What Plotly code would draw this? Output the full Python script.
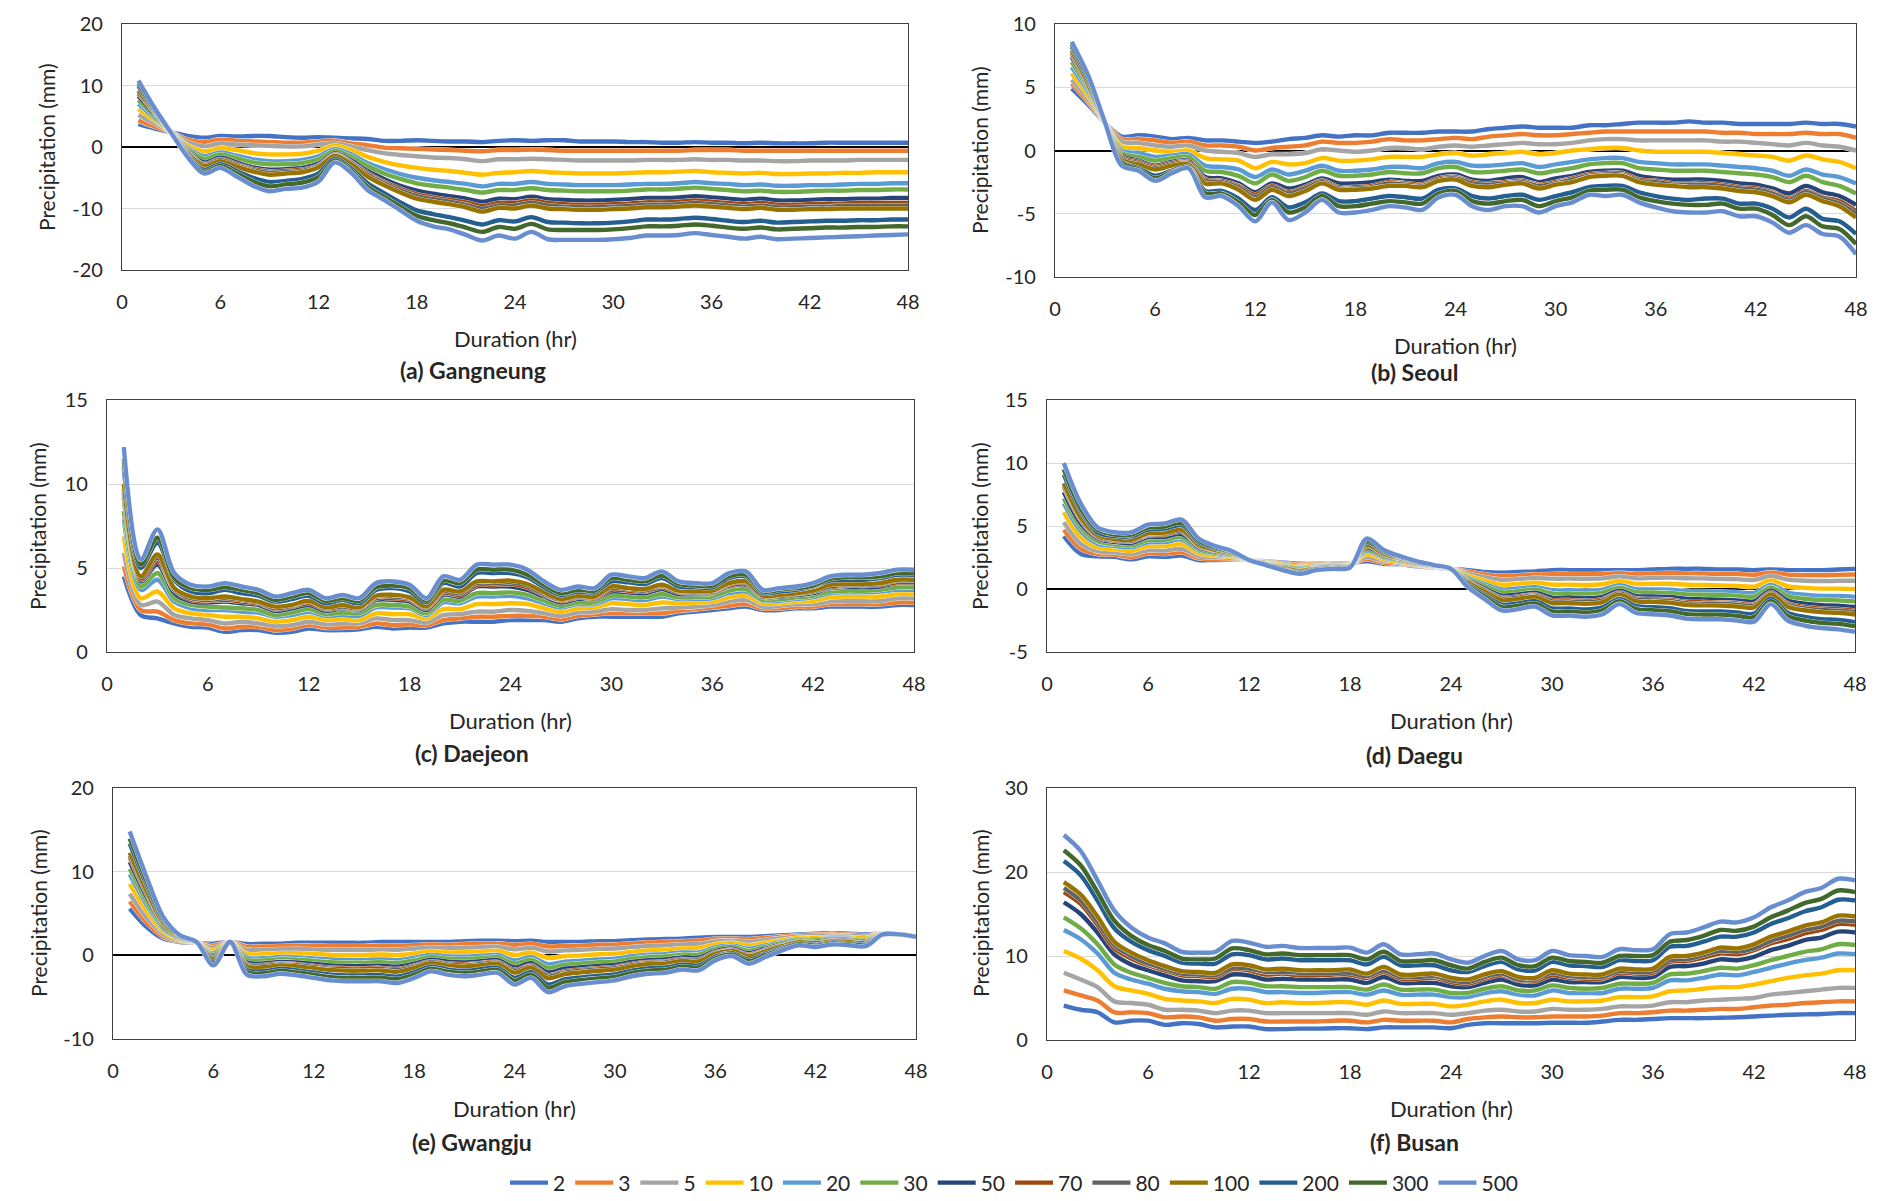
import plotly.graph_objects as go

HOURS = list(range(1, 49))
RETURN_PERIODS = ["2", "3", "5", "10", "20", "30", "50", "70", "80", "100", "200", "300", "500"]
COLORS = ["#4472C4", "#ED7D31", "#A5A5A5", "#FFC000", "#5B9BD5", "#70AD47", "#264478",
          "#9E480E", "#636363", "#997300", "#255E91", "#43682B", "#698ED0"]

# (a) Gangneung
GANGNEUNG = {
    "2": [3.7,3.0,2.4,1.8,1.5,1.8,1.7,1.8,1.8,1.6,1.5,1.6,1.5,1.4,1.3,1.0,1.0,1.1,1.0,0.9,0.9,0.8,1.0,1.1,1.0,1.1,1.1,0.9,0.9,0.9,0.8,0.8,0.7,0.7,0.8,0.7,0.7,0.6,0.7,0.6,0.6,0.6,0.7,0.7,0.7,0.7,0.7,0.7],
    "3": [4.3,3.3,2.4,1.2,0.8,1.2,1.0,0.9,0.8,0.7,0.7,0.9,1.0,0.6,0.3,-0.1,-0.2,-0.3,-0.4,-0.5,-0.6,-0.7,-0.5,-0.5,-0.4,-0.5,-0.6,-0.6,-0.6,-0.6,-0.6,-0.6,-0.6,-0.6,-0.5,-0.5,-0.5,-0.6,-0.6,-0.6,-0.6,-0.6,-0.6,-0.6,-0.6,-0.6,-0.6,-0.6],
    "5": [5.2,3.8,2.4,0.8,0.1,0.6,0.4,0.3,0.2,0.1,0.1,0.4,0.6,0.1,-0.5,-1.0,-1.3,-1.5,-1.7,-1.8,-2.0,-2.3,-2.0,-2.0,-1.9,-2.0,-2.1,-2.2,-2.2,-2.2,-2.2,-2.1,-2.1,-2.1,-2.0,-2.1,-2.1,-2.2,-2.2,-2.3,-2.3,-2.2,-2.2,-2.2,-2.1,-2.1,-2.1,-2.1],
    "10": [6.2,4.3,2.4,0.3,-0.7,-0.2,-0.5,-1.0,-1.2,-1.2,-1.1,-0.6,0.2,-0.5,-1.6,-2.4,-3.0,-3.4,-3.7,-3.9,-4.2,-4.5,-4.2,-4.1,-3.9,-4.1,-4.2,-4.3,-4.3,-4.3,-4.2,-4.1,-4.1,-4.0,-3.9,-4.1,-4.2,-4.3,-4.2,-4.4,-4.4,-4.3,-4.3,-4.2,-4.2,-4.1,-4.1,-4.1],
    "20": [7.0,4.7,2.4,-0.1,-1.5,-0.9,-1.4,-2.0,-2.3,-2.3,-2.1,-1.5,-0.3,-1.2,-2.6,-3.6,-4.4,-5.0,-5.4,-5.7,-6.0,-6.4,-6.0,-6.0,-5.7,-6.0,-6.1,-6.2,-6.2,-6.2,-6.1,-6.0,-6.0,-5.9,-5.7,-5.9,-6.0,-6.2,-6.1,-6.3,-6.3,-6.2,-6.2,-6.1,-6.0,-6.0,-5.9,-5.9],
    "30": [7.6,5.0,2.4,-0.3,-1.9,-1.2,-1.8,-2.5,-2.8,-2.8,-2.6,-2.0,-0.6,-1.6,-3.1,-4.3,-5.2,-5.9,-6.3,-6.6,-7.0,-7.4,-7.0,-7.0,-6.7,-7.0,-7.1,-7.2,-7.2,-7.2,-7.1,-6.9,-6.9,-6.8,-6.6,-6.8,-7.0,-7.2,-7.1,-7.3,-7.3,-7.2,-7.1,-7.1,-7.0,-7.0,-6.9,-6.9],
    "50": [8.3,5.3,2.4,-0.6,-2.5,-1.7,-2.5,-3.3,-3.7,-3.6,-3.4,-2.7,-1.0,-2.2,-3.9,-5.2,-6.3,-7.1,-7.6,-8.0,-8.4,-8.9,-8.4,-8.5,-8.1,-8.5,-8.6,-8.7,-8.7,-8.6,-8.5,-8.3,-8.3,-8.2,-8.0,-8.2,-8.4,-8.6,-8.4,-8.7,-8.7,-8.6,-8.5,-8.5,-8.4,-8.4,-8.3,-8.3],
    "70": [8.7,5.5,2.4,-0.7,-2.8,-2.0,-2.8,-3.6,-4.0,-3.9,-3.7,-3.0,-1.2,-2.5,-4.3,-5.7,-6.8,-7.7,-8.2,-8.6,-9.0,-9.6,-9.1,-9.1,-8.7,-9.1,-9.3,-9.4,-9.4,-9.3,-9.2,-9.0,-9.0,-8.9,-8.7,-8.9,-9.1,-9.3,-9.1,-9.4,-9.4,-9.3,-9.2,-9.2,-9.1,-9.1,-9.1,-9.1],
    "80": [8.9,5.6,2.4,-0.8,-2.9,-2.1,-3.0,-3.8,-4.2,-4.1,-3.9,-3.1,-1.3,-2.6,-4.5,-5.9,-7.1,-8.0,-8.5,-8.9,-9.4,-10.0,-9.5,-9.5,-9.1,-9.5,-9.7,-9.8,-9.8,-9.7,-9.6,-9.4,-9.4,-9.3,-9.1,-9.3,-9.5,-9.7,-9.5,-9.8,-9.8,-9.7,-9.7,-9.6,-9.6,-9.6,-9.6,-9.6],
    "100": [9.2,5.7,2.4,-0.9,-3.1,-2.3,-3.2,-4.0,-4.5,-4.3,-4.1,-3.3,-1.4,-2.8,-4.8,-6.2,-7.4,-8.4,-8.9,-9.3,-9.8,-10.5,-9.9,-10.0,-9.5,-10.0,-10.1,-10.2,-10.2,-10.1,-10.0,-9.8,-9.8,-9.7,-9.5,-9.7,-9.9,-10.1,-9.9,-10.2,-10.2,-10.1,-10.1,-10.0,-10.0,-10.0,-10.0,-10.0],
    "200": [9.9,5.9,2.3,-1.2,-3.7,-2.8,-3.9,-5.0,-5.7,-5.5,-5.2,-4.3,-1.9,-3.5,-5.9,-7.5,-9.0,-10.3,-10.9,-11.4,-12.0,-12.6,-11.9,-12.1,-11.4,-12.2,-12.3,-12.4,-12.4,-12.3,-12.1,-11.8,-11.8,-11.7,-11.5,-11.7,-12.0,-12.2,-12.0,-12.3,-12.2,-12.1,-12.0,-12.0,-11.9,-11.9,-11.8,-11.8],
    "300": [10.3,6.1,2.3,-1.4,-4.0,-3.1,-4.3,-5.6,-6.4,-6.1,-5.8,-4.9,-2.2,-3.9,-6.5,-8.1,-9.7,-11.2,-11.9,-12.4,-13.1,-13.8,-13.0,-13.3,-12.5,-13.4,-13.5,-13.5,-13.5,-13.4,-13.2,-12.9,-12.9,-12.8,-12.6,-12.8,-13.1,-13.3,-13.1,-13.4,-13.3,-13.2,-13.1,-13.1,-13.0,-13.0,-12.9,-12.9],
    "500": [10.8,6.3,2.3,-1.6,-4.3,-3.4,-4.8,-6.3,-7.2,-6.8,-6.6,-5.6,-2.5,-4.2,-7.0,-8.6,-10.3,-12.0,-12.9,-13.4,-14.3,-15.2,-14.4,-14.9,-13.8,-15.0,-15.1,-15.1,-15.1,-15.0,-14.8,-14.4,-14.4,-14.3,-14.0,-14.3,-14.6,-14.9,-14.6,-15.0,-14.9,-14.8,-14.7,-14.6,-14.5,-14.4,-14.3,-14.2],
}

# (b) Seoul
SEOUL = {
    "2": [4.9,3.6,2.2,1.1,1.2,1.1,0.9,1.0,0.8,0.8,0.7,0.6,0.7,0.9,1.0,1.2,1.1,1.2,1.2,1.4,1.4,1.4,1.5,1.5,1.5,1.7,1.8,1.9,1.8,1.8,1.8,2.0,2.0,2.1,2.2,2.2,2.2,2.3,2.2,2.2,2.1,2.1,2.1,2.1,2.2,2.1,2.1,1.9],
    "3": [5.3,3.8,2.2,0.9,0.9,0.8,0.6,0.7,0.4,0.4,0.3,0.0,0.2,0.3,0.4,0.7,0.6,0.6,0.7,0.9,0.8,0.8,0.9,1.0,0.9,1.1,1.2,1.3,1.2,1.2,1.3,1.4,1.5,1.5,1.5,1.5,1.5,1.5,1.5,1.4,1.4,1.3,1.3,1.3,1.4,1.3,1.3,1.0],
    "5": [5.6,4.0,2.2,0.7,0.6,0.4,0.3,0.4,0.0,-0.1,-0.2,-0.5,-0.3,-0.3,-0.2,0.1,0.0,-0.1,0.0,0.2,0.2,0.1,0.3,0.4,0.3,0.4,0.5,0.6,0.5,0.5,0.6,0.8,0.9,0.9,0.8,0.8,0.8,0.8,0.8,0.7,0.7,0.6,0.5,0.4,0.6,0.4,0.3,0.0],
    "10": [6.1,4.3,2.2,0.3,0.2,0.0,-0.1,0.0,-0.6,-0.7,-0.8,-1.4,-0.9,-1.1,-1.0,-0.6,-0.8,-0.8,-0.7,-0.5,-0.5,-0.5,-0.3,-0.2,-0.4,-0.3,-0.2,-0.1,-0.3,-0.2,0.0,0.1,0.2,0.2,0.0,-0.1,-0.1,-0.1,-0.1,-0.2,-0.3,-0.4,-0.5,-0.8,-0.4,-0.7,-0.9,-1.4],
    "20": [6.6,4.6,2.2,0.0,-0.2,-0.5,-0.4,-0.3,-1.2,-1.3,-1.5,-2.1,-1.5,-1.9,-1.6,-1.2,-1.6,-1.6,-1.5,-1.3,-1.3,-1.4,-1.0,-0.9,-1.2,-1.2,-1.1,-1.0,-1.3,-1.1,-0.9,-0.7,-0.6,-0.6,-0.9,-1.0,-1.1,-1.1,-1.1,-1.2,-1.3,-1.4,-1.6,-2.0,-1.5,-1.9,-2.1,-2.6],
    "30": [7.0,4.8,2.2,-0.2,-0.5,-0.8,-0.6,-0.5,-1.6,-1.7,-2.0,-2.6,-1.9,-2.4,-2.1,-1.6,-2.0,-2.0,-1.9,-1.7,-1.8,-1.8,-1.4,-1.3,-1.7,-1.7,-1.6,-1.5,-1.8,-1.6,-1.4,-1.1,-1.0,-1.0,-1.4,-1.5,-1.6,-1.6,-1.6,-1.7,-1.8,-1.9,-2.1,-2.5,-2.0,-2.5,-2.8,-3.4],
    "50": [7.4,5.0,2.2,-0.4,-0.8,-1.2,-0.9,-0.8,-2.1,-2.2,-2.6,-3.3,-2.6,-3.0,-2.7,-2.2,-2.6,-2.6,-2.5,-2.3,-2.4,-2.4,-2.0,-1.9,-2.3,-2.4,-2.2,-2.1,-2.5,-2.2,-2.0,-1.7,-1.6,-1.6,-2.0,-2.2,-2.3,-2.3,-2.3,-2.4,-2.6,-2.7,-3.0,-3.4,-2.8,-3.3,-3.6,-4.3],
    "70": [7.6,5.1,2.2,-0.5,-0.9,-1.3,-1.0,-0.9,-2.3,-2.4,-2.8,-3.5,-2.8,-3.3,-2.9,-2.4,-2.9,-2.9,-2.8,-2.5,-2.6,-2.7,-2.2,-2.1,-2.5,-2.6,-2.5,-2.4,-2.7,-2.5,-2.2,-1.9,-1.8,-1.8,-2.3,-2.4,-2.6,-2.6,-2.6,-2.7,-2.9,-3.0,-3.3,-3.8,-3.2,-3.7,-4.0,-4.8],
    "80": [7.7,5.1,2.2,-0.6,-1.0,-1.4,-1.1,-1.0,-2.4,-2.5,-2.9,-3.7,-2.9,-3.4,-3.0,-2.5,-3.0,-3.0,-2.9,-2.6,-2.7,-2.8,-2.3,-2.2,-2.6,-2.7,-2.6,-2.5,-2.8,-2.6,-2.3,-2.0,-1.9,-1.9,-2.4,-2.5,-2.7,-2.7,-2.7,-2.8,-3.0,-3.1,-3.4,-3.9,-3.3,-3.8,-4.2,-5.0],
    "100": [7.9,5.2,2.2,-0.7,-1.1,-1.5,-1.2,-1.1,-2.6,-2.6,-3.1,-3.9,-3.1,-3.6,-3.2,-2.6,-3.1,-3.1,-3.0,-2.8,-2.8,-2.9,-2.4,-2.3,-2.8,-2.9,-2.7,-2.6,-3.0,-2.7,-2.5,-2.1,-2.0,-2.0,-2.5,-2.7,-2.8,-2.9,-2.9,-3.0,-3.2,-3.3,-3.6,-4.1,-3.5,-4.0,-4.4,-5.3],
    "200": [8.2,5.5,2.2,-0.9,-1.4,-2.0,-1.6,-1.3,-3.2,-3.2,-3.8,-4.7,-3.7,-4.5,-4.1,-3.4,-4.0,-4.0,-3.8,-3.6,-3.7,-3.8,-3.1,-3.0,-3.6,-3.8,-3.6,-3.5,-3.9,-3.6,-3.3,-2.9,-2.8,-2.8,-3.3,-3.6,-3.8,-3.9,-3.8,-3.8,-4.2,-4.2,-4.6,-5.3,-4.6,-5.4,-5.6,-6.6],
    "300": [8.4,5.7,2.2,-1.0,-1.5,-2.2,-1.7,-1.4,-3.4,-3.4,-4.1,-5.1,-3.9,-4.9,-4.5,-3.6,-4.4,-4.4,-4.2,-4.0,-4.1,-4.2,-3.4,-3.2,-4.0,-4.2,-4.0,-3.9,-4.4,-4.0,-3.7,-3.2,-3.1,-3.1,-3.7,-4.0,-4.2,-4.3,-4.3,-4.2,-4.6,-4.6,-5.1,-5.9,-5.2,-6.0,-6.2,-7.4],
    "500": [8.6,5.9,2.2,-1.2,-1.6,-2.4,-1.8,-1.4,-3.7,-3.6,-4.4,-5.6,-4.1,-5.5,-4.9,-3.9,-4.9,-4.9,-4.7,-4.4,-4.5,-4.7,-3.7,-3.5,-4.4,-4.7,-4.4,-4.4,-4.9,-4.4,-4.1,-3.5,-3.6,-3.5,-4.1,-4.5,-4.8,-4.9,-4.9,-4.8,-5.2,-5.2,-5.7,-6.5,-5.9,-6.6,-6.8,-8.2],
}

# (c) Daejeon
DAEJEON = {
    "2": [4.5,2.2,2.0,1.7,1.5,1.45,1.2,1.3,1.3,1.15,1.2,1.4,1.3,1.3,1.35,1.5,1.4,1.45,1.45,1.7,1.8,1.8,1.8,1.9,1.9,1.9,1.8,2.0,2.1,2.1,2.1,2.1,2.1,2.3,2.4,2.5,2.6,2.7,2.5,2.5,2.6,2.6,2.7,2.7,2.7,2.7,2.8,2.8],
    "3": [5.1,2.5,2.4,1.9,1.7,1.65,1.4,1.5,1.5,1.3,1.4,1.6,1.45,1.45,1.5,1.7,1.6,1.65,1.6,1.9,2.0,2.1,2.1,2.15,2.15,2.1,1.95,2.15,2.25,2.3,2.3,2.3,2.3,2.45,2.55,2.65,2.75,2.85,2.6,2.6,2.7,2.7,2.85,2.85,2.85,2.85,2.95,2.95],
    "5": [5.9,2.8,3.0,2.2,2.0,1.9,1.7,1.8,1.7,1.55,1.6,1.8,1.65,1.7,1.7,2.0,1.9,1.9,1.75,2.2,2.25,2.4,2.4,2.5,2.45,2.3,2.15,2.35,2.4,2.55,2.5,2.5,2.6,2.65,2.7,2.8,3.0,3.1,2.7,2.75,2.85,2.85,3.0,3.05,3.05,3.05,3.2,3.2],
    "10": [6.9,3.2,3.6,2.6,2.3,2.2,2.1,2.1,2.0,1.8,1.9,2.1,1.9,1.95,1.9,2.3,2.25,2.25,2.0,2.55,2.55,2.85,2.85,2.9,2.85,2.6,2.4,2.6,2.65,2.9,2.85,2.8,2.95,2.9,2.95,3.0,3.25,3.35,2.9,2.9,3.0,3.05,3.25,3.3,3.3,3.3,3.45,3.45],
    "20": [7.9,3.7,4.3,3.0,2.6,2.5,2.5,2.4,2.35,2.1,2.2,2.4,2.15,2.2,2.15,2.65,2.65,2.6,2.2,2.95,2.9,3.3,3.3,3.35,3.2,2.9,2.65,2.85,2.85,3.2,3.15,3.1,3.3,3.15,3.15,3.2,3.5,3.6,3.05,3.05,3.15,3.25,3.5,3.55,3.55,3.6,3.7,3.7],
    "30": [8.4,3.9,4.7,3.2,2.8,2.7,2.65,2.6,2.5,2.2,2.35,2.55,2.25,2.35,2.3,2.8,2.8,2.7,2.3,3.1,3.05,3.5,3.5,3.55,3.4,3.05,2.75,2.95,2.95,3.35,3.3,3.25,3.45,3.25,3.25,3.3,3.65,3.75,3.1,3.15,3.25,3.35,3.6,3.65,3.65,3.7,3.85,3.85],
    "50": [9.2,4.2,5.2,3.5,3.0,2.95,3.0,2.9,2.8,2.45,2.6,2.8,2.45,2.6,2.5,3.1,3.1,3.0,2.5,3.4,3.3,3.9,3.9,3.9,3.7,3.3,2.95,3.15,3.15,3.6,3.55,3.5,3.75,3.45,3.45,3.5,3.9,4.0,3.25,3.3,3.4,3.5,3.8,3.85,3.85,3.9,4.1,4.1],
    "70": [9.5,4.3,5.4,3.7,3.1,3.05,3.1,3.0,2.9,2.55,2.7,2.9,2.55,2.65,2.55,3.2,3.2,3.1,2.6,3.5,3.4,4.0,4.0,4.05,3.85,3.4,3.05,3.25,3.2,3.7,3.65,3.6,3.85,3.55,3.5,3.55,3.95,4.05,3.3,3.35,3.45,3.6,3.85,3.95,3.95,4.0,4.15,4.15],
    "80": [9.7,4.4,5.6,3.7,3.2,3.1,3.2,3.1,2.95,2.6,2.75,3.0,2.6,2.7,2.6,3.3,3.3,3.2,2.65,3.6,3.5,4.1,4.1,4.15,3.95,3.45,3.1,3.3,3.25,3.8,3.75,3.65,3.95,3.6,3.55,3.6,4.05,4.15,3.3,3.4,3.5,3.6,3.9,4.0,4.0,4.05,4.25,4.25],
    "100": [10.0,4.5,5.8,3.8,3.3,3.2,3.3,3.15,3.0,2.7,2.8,3.05,2.65,2.8,2.65,3.35,3.4,3.25,2.7,3.7,3.6,4.2,4.2,4.25,4.05,3.55,3.15,3.35,3.3,3.9,3.8,3.75,4.0,3.65,3.6,3.65,4.1,4.2,3.35,3.4,3.5,3.65,4.0,4.05,4.05,4.1,4.3,4.3],
    "200": [11.0,5.0,6.5,4.3,3.6,3.5,3.7,3.5,3.35,3.0,3.15,3.35,2.9,3.1,2.9,3.7,3.8,3.6,2.95,4.1,3.9,4.7,4.7,4.7,4.45,3.85,3.4,3.6,3.55,4.2,4.15,4.05,4.4,3.9,3.85,3.85,4.4,4.5,3.5,3.6,3.7,3.9,4.25,4.3,4.3,4.4,4.6,4.6],
    "300": [11.5,5.2,6.8,4.4,3.8,3.7,3.85,3.7,3.5,3.1,3.3,3.5,3.05,3.2,3.05,3.85,3.95,3.8,3.05,4.25,4.1,4.9,4.9,4.9,4.6,4.0,3.5,3.7,3.65,4.4,4.3,4.2,4.55,4.05,3.95,3.95,4.5,4.6,3.6,3.7,3.8,3.95,4.35,4.45,4.45,4.5,4.7,4.7],
    "500": [12.2,5.5,7.3,4.7,4.0,3.9,4.1,3.9,3.7,3.3,3.5,3.7,3.2,3.4,3.2,4.1,4.2,4.0,3.2,4.5,4.3,5.2,5.2,5.2,4.9,4.2,3.7,3.9,3.8,4.6,4.5,4.4,4.8,4.2,4.1,4.1,4.7,4.8,3.7,3.8,3.9,4.1,4.5,4.6,4.6,4.7,4.9,4.9],
}

# (d) Daegu
DAEGU = {
    "2": [4.2,2.8,2.6,2.55,2.35,2.6,2.55,2.65,2.3,2.3,2.35,2.3,2.2,2.1,2.0,2.0,2.0,2.05,2.2,2.0,1.95,1.8,1.7,1.6,1.5,1.35,1.3,1.35,1.4,1.5,1.5,1.5,1.5,1.5,1.5,1.55,1.6,1.6,1.6,1.55,1.55,1.5,1.55,1.5,1.5,1.5,1.55,1.6],
    "3": [4.7,3.2,2.8,2.73,2.54,2.83,2.79,2.91,2.45,2.4,2.41,2.3,2.17,2.05,1.93,1.96,1.96,2.02,2.36,2.1,2.01,1.84,1.72,1.6,1.38,1.16,1.03,1.08,1.15,1.18,1.18,1.17,1.19,1.26,1.19,1.23,1.27,1.24,1.24,1.19,1.19,1.13,1.3,1.14,1.1,1.09,1.12,1.15],
    "5": [5.3,3.6,3.0,2.92,2.76,3.08,3.05,3.19,2.62,2.51,2.47,2.3,2.14,1.99,1.85,1.9,1.92,1.98,2.54,2.21,2.07,1.88,1.74,1.6,1.24,0.94,0.73,0.79,0.87,0.82,0.82,0.8,0.84,0.99,0.85,0.88,0.9,0.85,0.84,0.8,0.78,0.72,1.03,0.74,0.66,0.63,0.65,0.65],
    "10": [6.1,4.1,3.3,3.17,3.04,3.4,3.4,3.56,2.84,2.65,2.56,2.3,2.1,1.91,1.74,1.84,1.87,1.94,2.78,2.35,2.16,1.93,1.76,1.6,1.07,0.66,0.34,0.41,0.5,0.35,0.35,0.32,0.38,0.64,0.41,0.41,0.42,0.34,0.32,0.29,0.25,0.19,0.67,0.22,0.09,0.03,0.03,0.0],
    "20": [6.8,4.6,3.6,3.42,3.31,3.71,3.73,3.92,3.06,2.79,2.64,2.3,2.07,1.83,1.64,1.78,1.82,1.89,3.0,2.49,2.24,1.98,1.79,1.6,0.9,0.39,-0.04,0.04,0.15,-0.1,-0.1,-0.15,-0.06,0.3,-0.01,-0.03,-0.05,-0.16,-0.18,-0.21,-0.25,-0.32,0.33,-0.28,-0.46,-0.55,-0.56,-0.63],
    "30": [7.2,4.9,3.8,3.55,3.46,3.89,3.91,4.12,3.18,2.87,2.68,2.3,2.05,1.79,1.59,1.74,1.79,1.87,3.13,2.57,2.28,2.01,1.8,1.6,0.8,0.24,-0.25,-0.17,-0.04,-0.35,-0.35,-0.41,-0.3,0.11,-0.25,-0.28,-0.31,-0.43,-0.46,-0.48,-0.54,-0.61,0.13,-0.56,-0.77,-0.87,-0.9,-0.98],
    "50": [7.7,5.2,4.0,3.73,3.65,4.11,4.15,4.37,3.33,2.97,2.74,2.3,2.02,1.74,1.52,1.7,1.76,1.84,3.29,2.67,2.34,2.04,1.82,1.6,0.68,0.05,-0.52,-0.43,-0.29,-0.68,-0.68,-0.74,-0.62,-0.13,-0.56,-0.6,-0.64,-0.79,-0.82,-0.84,-0.9,-0.98,-0.11,-0.92,-1.16,-1.28,-1.32,-1.43],
    "70": [8.1,5.5,4.1,3.85,3.78,4.26,4.31,4.55,3.43,3.03,2.78,2.3,2.0,1.7,1.47,1.67,1.73,1.82,3.4,2.73,2.38,2.07,1.83,1.6,0.6,-0.08,-0.7,-0.61,-0.46,-0.89,-0.89,-0.96,-0.83,-0.3,-0.76,-0.81,-0.86,-1.03,-1.06,-1.08,-1.14,-1.23,-0.28,-1.16,-1.43,-1.56,-1.61,-1.73],
    "80": [8.2,5.6,4.2,3.9,3.83,4.33,4.38,4.62,3.47,3.06,2.8,2.3,1.99,1.69,1.45,1.66,1.72,1.81,3.44,2.76,2.4,2.08,1.84,1.6,0.57,-0.13,-0.77,-0.69,-0.53,-0.98,-0.98,-1.05,-0.92,-0.36,-0.85,-0.9,-0.95,-1.13,-1.16,-1.18,-1.24,-1.33,-0.35,-1.26,-1.54,-1.67,-1.73,-1.85],
    "100": [8.4,5.7,4.3,3.96,3.91,4.41,4.47,4.72,3.53,3.1,2.82,2.3,1.98,1.67,1.42,1.64,1.71,1.8,3.51,2.8,2.42,2.09,1.85,1.6,0.52,-0.21,-0.88,-0.79,-0.63,-1.11,-1.11,-1.18,-1.04,-0.46,-0.97,-1.02,-1.08,-1.26,-1.3,-1.31,-1.39,-1.47,-0.44,-1.4,-1.69,-1.84,-1.89,-2.03],
    "200": [9.1,6.2,4.5,4.2,4.17,4.71,4.79,5.06,3.74,3.23,2.9,2.3,1.95,1.59,1.32,1.58,1.66,1.75,3.72,2.93,2.5,2.14,1.87,1.6,0.36,-0.47,-1.24,-1.14,-0.97,-1.54,-1.54,-1.63,-1.46,-0.78,-1.37,-1.45,-1.53,-1.74,-1.78,-1.79,-1.87,-1.96,-0.77,-1.88,-2.22,-2.39,-2.46,-2.63],
    "300": [9.5,6.4,4.7,4.32,4.31,4.88,4.96,5.24,3.85,3.3,2.94,2.3,1.93,1.55,1.27,1.55,1.64,1.73,3.84,3.0,2.54,2.16,1.88,1.6,0.27,-0.61,-1.43,-1.33,-1.15,-1.78,-1.78,-1.87,-1.69,-0.96,-1.59,-1.68,-1.77,-1.99,-2.04,-2.04,-2.14,-2.23,-0.95,-2.14,-2.5,-2.69,-2.77,-2.95],
    "500": [10.0,6.8,4.9,4.5,4.5,5.1,5.2,5.5,4.0,3.4,3.0,2.3,1.9,1.5,1.2,1.5,1.6,1.7,4.0,3.1,2.6,2.2,1.9,1.6,0.15,-0.8,-1.7,-1.6,-1.4,-2.1,-2.1,-2.2,-2.0,-1.2,-1.9,-2.0,-2.1,-2.35,-2.4,-2.4,-2.5,-2.6,-1.2,-2.5,-2.9,-3.1,-3.2,-3.4],
}

# (e) Gwangju
GWANGJU = {
    "2": [5.6,3.4,2.0,1.6,1.5,1.4,1.6,1.35,1.4,1.4,1.5,1.5,1.5,1.5,1.5,1.6,1.6,1.6,1.6,1.6,1.7,1.75,1.75,1.7,1.75,1.6,1.6,1.6,1.7,1.7,1.8,1.9,1.95,2.0,2.1,2.2,2.2,2.2,2.3,2.4,2.5,2.6,2.6,2.6,2.5,2.6,2.5,2.3],
    "3": [6.43,3.94,2.23,1.67,1.51,1.17,1.6,1.02,1.05,1.08,1.15,1.12,1.1,1.09,1.09,1.18,1.16,1.21,1.29,1.25,1.32,1.39,1.4,1.23,1.35,1.06,1.12,1.15,1.26,1.28,1.41,1.53,1.59,1.67,1.75,1.95,1.99,1.91,2.08,2.24,2.38,2.46,2.48,2.47,2.37,2.59,2.5,2.29],
    "5": [7.35,4.54,2.49,1.75,1.52,0.91,1.6,0.66,0.66,0.72,0.76,0.7,0.65,0.63,0.63,0.71,0.67,0.78,0.94,0.86,0.9,0.98,1.02,0.71,0.9,0.46,0.59,0.65,0.77,0.81,0.98,1.12,1.18,1.3,1.36,1.67,1.76,1.59,1.83,2.06,2.25,2.3,2.35,2.33,2.23,2.58,2.5,2.28],
    "10": [8.54,5.32,2.83,1.86,1.53,0.57,1.6,0.18,0.15,0.25,0.25,0.16,0.06,0.03,0.03,0.1,0.03,0.22,0.48,0.35,0.36,0.45,0.52,0.04,0.33,-0.32,-0.1,0.0,0.13,0.2,0.42,0.59,0.65,0.82,0.85,1.3,1.46,1.18,1.5,1.82,2.08,2.09,2.18,2.15,2.05,2.57,2.5,2.27],
    "20": [9.69,6.07,3.16,1.96,1.54,0.24,1.6,-0.27,-0.34,-0.2,-0.24,-0.37,-0.5,-0.55,-0.55,-0.49,-0.58,-0.31,0.04,-0.14,-0.17,-0.05,0.04,-0.61,-0.23,-1.07,-0.76,-0.63,-0.48,-0.39,-0.11,0.08,0.15,0.35,0.36,0.95,1.18,0.78,1.19,1.6,1.92,1.89,2.02,1.98,1.88,2.56,2.5,2.26],
    "30": [10.34,6.49,3.34,2.01,1.55,0.06,1.6,-0.53,-0.61,-0.45,-0.51,-0.66,-0.82,-0.87,-0.87,-0.82,-0.92,-0.61,-0.2,-0.41,-0.46,-0.34,-0.23,-0.98,-0.54,-1.49,-1.13,-0.98,-0.82,-0.72,-0.41,-0.21,-0.14,0.09,0.09,0.76,1.02,0.55,1.01,1.47,1.83,1.78,1.93,1.88,1.78,2.55,2.5,2.25],
    "50": [11.17,7.03,3.57,2.08,1.56,-0.17,1.6,-0.86,-0.96,-0.78,-0.86,-1.04,-1.22,-1.28,-1.28,-1.24,-1.36,-1.0,-0.52,-0.76,-0.84,-0.7,-0.58,-1.45,-0.94,-2.03,-1.61,-1.43,-1.26,-1.14,-0.8,-0.58,-0.5,-0.24,-0.26,0.51,0.81,0.26,0.79,1.31,1.71,1.63,1.81,1.75,1.65,2.54,2.5,2.24],
    "70": [11.72,7.39,3.73,2.13,1.57,-0.33,1.6,-1.08,-1.19,-0.99,-1.09,-1.29,-1.49,-1.56,-1.56,-1.53,-1.66,-1.26,-0.73,-0.99,-1.09,-0.94,-0.81,-1.76,-1.21,-2.39,-1.92,-1.73,-1.56,-1.43,-1.06,-0.83,-0.74,-0.46,-0.49,0.34,0.67,0.07,0.64,1.2,1.64,1.54,1.74,1.67,1.57,2.53,2.5,2.23],
    "80": [11.95,7.54,3.79,2.15,1.57,-0.39,1.6,-1.17,-1.29,-1.08,-1.19,-1.4,-1.61,-1.67,-1.67,-1.64,-1.78,-1.37,-0.82,-1.09,-1.2,-1.04,-0.91,-1.89,-1.32,-2.54,-2.06,-1.85,-1.68,-1.54,-1.17,-0.93,-0.84,-0.55,-0.59,0.27,0.61,-0.01,0.58,1.16,1.6,1.5,1.7,1.63,1.53,2.53,2.5,2.23],
    "100": [12.27,7.75,3.89,2.18,1.57,-0.49,1.6,-1.3,-1.43,-1.21,-1.33,-1.55,-1.76,-1.84,-1.84,-1.81,-1.95,-1.52,-0.94,-1.23,-1.35,-1.19,-1.04,-2.07,-1.48,-2.75,-2.24,-2.03,-1.85,-1.71,-1.32,-1.07,-0.99,-0.68,-0.73,0.17,0.53,-0.12,0.49,1.1,1.56,1.44,1.66,1.59,1.49,2.53,2.5,2.23],
    "200": [13.37,8.47,4.2,2.28,1.58,-0.8,1.6,-1.73,-1.9,-1.64,-1.8,-2.05,-2.3,-2.39,-2.39,-2.37,-2.54,-2.03,-1.36,-1.7,-1.85,-1.67,-1.5,-2.69,-2.01,-3.47,-2.88,-2.63,-2.44,-2.27,-1.83,-1.56,-1.47,-1.13,-1.2,-0.17,0.26,-0.5,0.19,0.88,1.4,1.25,1.5,1.42,1.32,2.52,2.5,2.22],
    "300": [13.97,8.86,4.37,2.33,1.59,-0.97,1.6,-1.97,-2.15,-1.88,-2.05,-2.32,-2.6,-2.69,-2.69,-2.68,-2.86,-2.31,-1.59,-1.95,-2.12,-1.94,-1.75,-3.03,-2.3,-3.86,-3.22,-2.95,-2.76,-2.58,-2.11,-1.83,-1.74,-1.37,-1.45,-0.35,0.11,-0.71,0.03,0.76,1.32,1.14,1.42,1.33,1.23,2.51,2.5,2.21],
    "500": [14.8,9.4,4.6,2.4,1.6,-1.2,1.6,-2.3,-2.5,-2.2,-2.4,-2.7,-3.0,-3.1,-3.1,-3.1,-3.3,-2.7,-1.9,-2.3,-2.5,-2.3,-2.1,-3.5,-2.7,-4.4,-3.7,-3.4,-3.2,-3.0,-2.5,-2.2,-2.1,-1.7,-1.8,-0.6,-0.1,-1.0,-0.2,0.6,1.2,1.0,1.3,1.2,1.1,2.5,2.5,2.2],
}

# (f) Busan
BUSAN = {
    "2": [4.1,3.6,3.3,2.1,2.3,2.3,1.8,2.0,1.9,1.5,1.6,1.6,1.3,1.3,1.35,1.35,1.4,1.4,1.3,1.5,1.5,1.5,1.5,1.4,1.8,2.0,2.0,2.0,2.0,2.05,2.05,2.05,2.2,2.4,2.4,2.5,2.6,2.6,2.6,2.65,2.7,2.8,2.9,3.0,3.05,3.1,3.2,3.2],
    "3": [5.9,5.3,4.7,3.3,3.3,3.2,2.7,2.8,2.7,2.3,2.5,2.5,2.2,2.2,2.2,2.2,2.3,2.3,2.1,2.4,2.3,2.3,2.3,2.1,2.5,2.7,2.8,2.7,2.7,2.8,2.8,2.8,2.9,3.2,3.2,3.3,3.5,3.5,3.6,3.7,3.7,3.9,4.1,4.2,4.4,4.5,4.6,4.6],
    "5": [8.0,7.2,6.3,4.6,4.4,4.2,3.6,3.6,3.5,3.2,3.5,3.5,3.2,3.2,3.2,3.2,3.2,3.2,3.0,3.4,3.2,3.2,3.2,3.0,3.2,3.5,3.6,3.4,3.4,3.7,3.6,3.6,3.7,4.0,4.0,4.1,4.5,4.5,4.7,4.8,4.9,5.0,5.4,5.6,5.8,6.0,6.2,6.2],
    "10": [10.6,9.7,8.3,6.4,5.9,5.5,4.9,4.7,4.6,4.4,4.9,4.8,4.4,4.5,4.4,4.4,4.5,4.5,4.2,4.7,4.3,4.3,4.3,4.0,4.2,4.6,4.8,4.4,4.4,4.8,4.6,4.6,4.7,5.1,5.1,5.2,5.8,5.9,6.1,6.3,6.3,6.6,7.0,7.4,7.7,7.9,8.3,8.3],
    "20": [13.1,12.0,10.3,8.0,7.2,6.7,6.1,5.8,5.7,5.5,6.1,6.1,5.7,5.7,5.6,5.6,5.7,5.7,5.4,5.9,5.4,5.4,5.4,5.1,5.1,5.6,5.8,5.4,5.3,5.9,5.6,5.6,5.6,6.1,6.1,6.2,7.1,7.1,7.4,7.8,7.7,8.1,8.6,9.1,9.5,9.8,10.3,10.2],
    "30": [14.6,13.3,11.4,9.0,8.0,7.4,6.8,6.4,6.3,6.1,6.9,6.8,6.4,6.4,6.3,6.3,6.3,6.3,6.0,6.6,6.0,6.0,6.0,5.6,5.6,6.1,6.4,5.9,5.9,6.5,6.2,6.1,6.2,6.7,6.7,6.8,7.8,7.9,8.2,8.6,8.5,8.9,9.5,10.0,10.5,10.8,11.4,11.3],
    "50": [16.4,15.0,12.8,10.2,9.0,8.3,7.7,7.1,7.0,7.0,7.8,7.7,7.2,7.3,7.2,7.2,7.2,7.2,6.8,7.5,6.8,6.8,6.8,6.4,6.3,6.8,7.2,6.6,6.5,7.2,6.9,6.9,6.9,7.5,7.4,7.5,8.7,8.8,9.1,9.6,9.5,9.9,10.7,11.2,11.9,12.2,12.9,12.8],
    "70": [17.6,16.2,13.7,10.9,9.7,8.9,8.3,7.7,7.6,7.5,8.4,8.3,7.8,7.9,7.7,7.7,7.8,7.8,7.4,8.1,7.3,7.3,7.4,6.9,6.7,7.3,7.7,7.1,7.0,7.7,7.4,7.3,7.3,8.0,7.9,8.0,9.3,9.4,9.8,10.3,10.2,10.7,11.5,12.0,12.7,13.1,13.8,13.7],
    "80": [18.1,16.6,14.1,11.3,10.0,9.1,8.5,7.9,7.8,7.7,8.6,8.5,8.1,8.1,8.0,8.0,8.0,8.0,7.6,8.3,7.5,7.5,7.6,7.1,6.9,7.5,7.9,7.2,7.2,8.0,7.6,7.5,7.5,8.2,8.1,8.2,9.5,9.6,10.1,10.6,10.5,10.9,11.8,12.4,13.1,13.5,14.2,14.1],
    "100": [18.8,17.3,14.7,11.7,10.4,9.5,8.8,8.2,8.1,8.0,9.0,8.9,8.4,8.5,8.3,8.3,8.3,8.4,7.9,8.7,7.8,7.8,7.9,7.4,7.2,7.8,8.2,7.5,7.4,8.3,7.9,7.8,7.8,8.5,8.4,8.5,9.9,10.0,10.4,11.0,10.9,11.4,12.3,12.9,13.6,14.0,14.8,14.7],
    "200": [21.3,19.6,16.6,13.3,11.7,10.7,10.0,9.2,9.1,9.1,10.2,10.1,9.6,9.7,9.5,9.5,9.5,9.5,9.0,9.9,8.9,8.9,8.9,8.3,8.1,8.8,9.3,8.4,8.3,9.3,8.9,8.8,8.7,9.5,9.4,9.5,11.1,11.2,11.7,12.3,12.3,12.8,13.8,14.5,15.3,15.8,16.7,16.6],
    "300": [22.6,20.8,17.6,14.2,12.4,11.3,10.6,9.7,9.6,9.7,10.9,10.7,10.2,10.3,10.1,10.1,10.1,10.1,9.6,10.5,9.4,9.4,9.5,8.9,8.5,9.3,9.8,8.9,8.8,9.8,9.4,9.3,9.2,10.0,10.0,10.1,11.7,11.9,12.4,13.1,13.0,13.5,14.6,15.4,16.3,16.8,17.8,17.6],
    "500": [24.4,22.5,19.0,15.4,13.4,12.2,11.5,10.5,10.4,10.5,11.8,11.6,11.1,11.2,10.95,10.95,10.95,11.0,10.4,11.4,10.2,10.2,10.3,9.6,9.2,10.0,10.6,9.6,9.5,10.6,10.1,10.0,9.9,10.8,10.7,10.8,12.6,12.8,13.4,14.1,14.0,14.6,15.8,16.6,17.6,18.1,19.2,19.0],
}

X_TICKS = [0, 6, 12, 18, 24, 30, 36, 42, 48]
Y_TICKS_A = [-20, -10, 0, 10, 20]
Y_TICKS_B = [-10, -5, 0, 5, 10]
Y_TICKS_C = [0, 5, 10, 15]
Y_TICKS_D = [-5, 0, 5, 10, 15]
Y_TICKS_E = [-10, 0, 10, 20]
Y_TICKS_F = [0, 10, 20, 30]

TITLES = ["(a) Gangneung", "(b) Seoul", "(c) Daejeon", "(d) Daegu", "(e) Gwangju", "(f) Busan"]
X_TITLE = "Duration (hr)"
Y_TITLE = "Precipitation (mm)"

W, H = 1889, 1201
FONT = "Lato, 'Open Sans', sans-serif"
TXT = "#262626"

# layout boxes in pixels: plot area (left, top, right, bottom), label anchor positions
PANELS = [
    dict(data=GANGNEUNG, yt=Y_TICKS_A, box=(122, 24, 908, 270), xt=(515, 338), st=(473, 370), yl=(47, 147)),
    dict(data=SEOUL, yt=Y_TICKS_B, box=(1055, 24, 1856, 277), xt=(1455, 345), st=(1414, 372), yl=(980, 150)),
    dict(data=DAEJEON, yt=Y_TICKS_C, box=(107, 400, 914, 652), xt=(510, 720), st=(472, 753), yl=(38, 526)),
    dict(data=DAEGU, yt=Y_TICKS_D, box=(1047, 400, 1855, 652), xt=(1451, 720), st=(1414, 755), yl=(980, 526)),
    dict(data=GWANGJU, yt=Y_TICKS_E, box=(113, 788, 916, 1039), xt=(514, 1108), st=(472, 1142), yl=(38, 913)),
    dict(data=BUSAN, yt=Y_TICKS_F, box=(1047, 788, 1855, 1040), xt=(1451, 1108), st=(1414, 1142), yl=(980, 913)),
]

fig = go.Figure()
annotations = []
for i, p in enumerate(PANELS):
    sfx = "" if i == 0 else str(i + 1)
    xa, ya = "x" + sfx, "y" + sfx
    for j, rp in enumerate(RETURN_PERIODS):
        yv = p["data"][rp]
        xv = HOURS[:len(yv)]
        fig.add_trace(go.Scatter(
            x=xv, y=yv, mode="lines", xaxis=xa, yaxis=ya, showlegend=False, hoverinfo="skip",
            line=dict(color="white", width=5.0, shape="spline", smoothing=0.9)))
        fig.add_trace(go.Scatter(
            x=xv, y=yv, mode="lines", name=rp, xaxis=xa, yaxis=ya, legendgroup=rp,
            showlegend=(i == 0),
            line=dict(color=COLORS[j], width=4.4, shape="spline", smoothing=0.9)))
    l, t, r, b = p["box"]
    yt = p["yt"]
    fig.layout["xaxis" + sfx] = dict(
        domain=[l / W, r / W], range=[0, 48], anchor=ya, automargin=False,
        tickmode="array", tickvals=X_TICKS, ticktext=[str(v) for v in X_TICKS],
        showgrid=False, zeroline=False, showline=True, mirror=True,
        linecolor="#404040", linewidth=1.3, ticks="outside", ticklen=14,
        tickcolor="rgba(0,0,0,0)", tickfont=dict(family=FONT, size=20, color=TXT))
    fig.layout["yaxis" + sfx] = dict(
        domain=[1 - b / H, 1 - t / H], range=[yt[0], yt[-1]], anchor=xa, automargin=False,
        tickmode="array", tickvals=yt, ticktext=[str(v) for v in yt],
        showgrid=True, gridcolor="#D9D9D9", gridwidth=1.3,
        zeroline=True, zerolinecolor="#000000", zerolinewidth=1.6,
        showline=True, mirror=True, linecolor="#404040", linewidth=1.3,
        ticks="outside", ticklen=14, tickcolor="rgba(0,0,0,0)",
        tickfont=dict(family=FONT, size=20, color=TXT))
    annotations.append(dict(x=p["xt"][0] / W, y=1 - p["xt"][1] / H, xref="paper", yref="paper",
                            text=X_TITLE, showarrow=False, xanchor="center", yanchor="middle",
                            font=dict(family=FONT, size=22, color=TXT)))
    annotations.append(dict(x=p["st"][0] / W, y=1 - p["st"][1] / H, xref="paper", yref="paper",
                            text="<b>" + TITLES[i] + "</b>", showarrow=False, xanchor="center",
                            yanchor="middle", font=dict(family=FONT, size=23, color=TXT)))
    annotations.append(dict(x=p["yl"][0] / W, y=1 - p["yl"][1] / H, xref="paper", yref="paper",
                            text=Y_TITLE, showarrow=False, textangle=-90, xanchor="center",
                            yanchor="middle", font=dict(family=FONT, size=21, color=TXT)))

fig.update_layout(
    width=W, height=H, autosize=False,
    margin=dict(l=0, r=0, t=0, b=0, pad=0, autoexpand=False),
    paper_bgcolor="white", plot_bgcolor="white",
    annotations=annotations,
    legend=dict(orientation="h", x=1014 / W, xanchor="center", y=1 - 1183 / H, yanchor="middle",
                font=dict(family=FONT, size=21, color=TXT), itemwidth=38,
                bgcolor="rgba(0,0,0,0)", traceorder="normal"),
)

fig.write_html("out.html", config={"displayModeBar": False},
               post_script="document.body.style.margin='0';document.body.style.padding='0';"
                           "document.body.style.overflow='hidden';")
